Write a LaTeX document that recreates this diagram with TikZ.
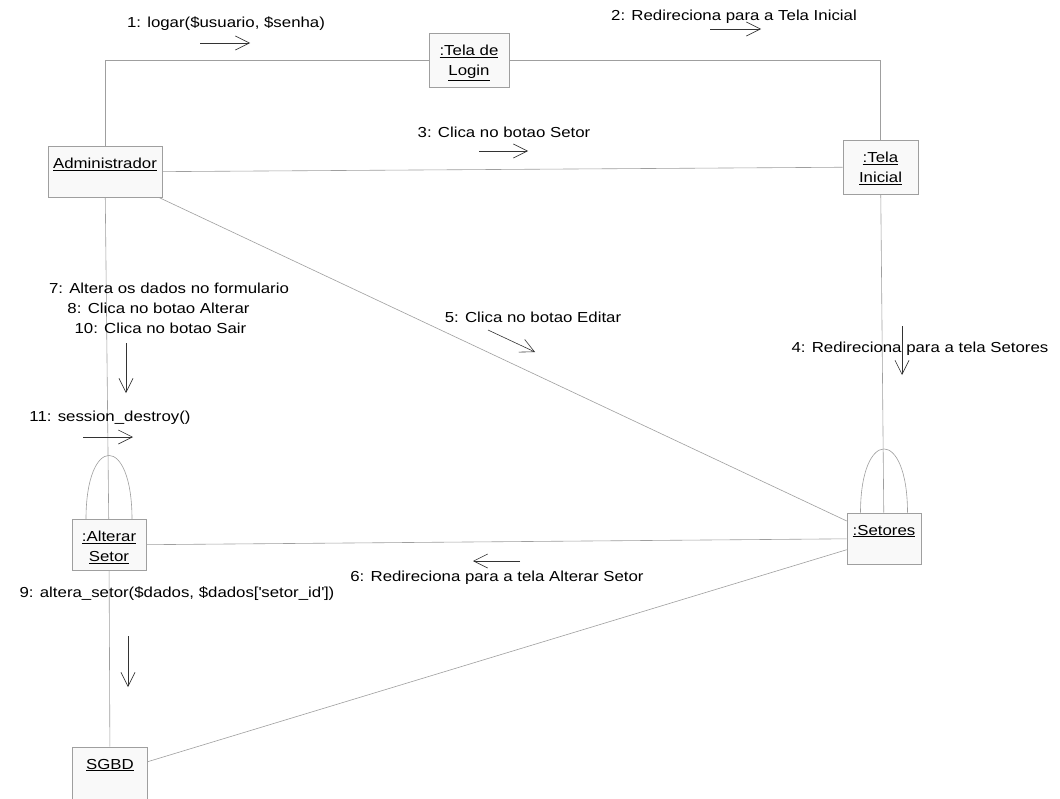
\documentclass[tikz,border=0pt]{standalone}
\usepackage{fontspec}
\setmainfont[FakeStretch=1.16]{Liberation Sans}
\usetikzlibrary{arrows.meta,calc}
\begin{document}
\begin{tikzpicture}[x=1pt,y=-1pt,
  obj/.style={draw=gray!75, fill=gray!5, line width=0.6pt, minimum width=75pt, minimum height=52pt, inner sep=0pt},
  boxtxt/.style={font=\fontsize{14.5}{20}\selectfont, inner sep=0pt, align=center, anchor=north, yshift=-12pt},
  link/.style={draw=gray!75, line width=0.6pt},
  msg/.style={draw=black!80, line width=0.6pt, -{Straight Barb[length=14pt,width=14pt]}},
  lbl/.style={font=\fontsize{14.5}{20}\selectfont, inner sep=0pt, text=black},
]
\fill[white] (0,0) rectangle (1060,798);
\useasboundingbox (0,0) rectangle (1060,798);

% objects
\node[obj, minimum width=80pt, minimum height=54pt] (login) at (469,60) {};
\node[boxtxt] at (login.north) {\underline{:Tela de}\\\underline{Login}};
\node[obj, minimum width=114pt, minimum height=51pt] (adm) at (105,172) {};
\node[boxtxt] at (adm.north) {\underline{Administrador}};
\node[obj, minimum height=54pt] (ini) at (880.5,167) {};
\node[boxtxt] at (ini.north) {\underline{:Tela}\\\underline{Inicial}};
\node[obj, minimum width=74pt, minimum height=51pt] (set) at (884,538.5) {};
\node[boxtxt] at (set.north) {\underline{:Setores}};
\node[obj, minimum width=74pt, minimum height=51pt] (alt) at (109,545) {};
\node[boxtxt] at (alt.north) {\underline{:Alterar}\\\underline{Setor}};
\node[obj, minimum height=52pt] (sgbd) at (110,773) {};
\node[boxtxt] at (sgbd.north) {\underline{SGBD}};

% links
\draw[link] (login) -| (adm);
\draw[link] (login) -| (ini);
\draw[link] (adm) -- (ini);
\draw[link] (adm) -- (set);
\draw[link] (adm) -- (alt);
\draw[link] (ini) -- (set);
\draw[link] (alt) -- (set);
\draw[link] (alt) -- (sgbd);
\draw[link] (sgbd) -- (set);
% self links
\draw[link] ($(set.north)+(-23.5,0)$) .. controls ($(set.north)+(-23.5,-85)$) and ($(set.north)+(23.5,-85)$) .. ($(set.north)+(23.5,0)$);
\draw[link] ($(alt.north)+(-23,0)$) .. controls ($(alt.north)+(-23,-85)$) and ($(alt.north)+(23,-85)$) .. ($(alt.north)+(23,0)$);

% messages
\node[lbl] at (226,24) {1: logar(\$usuario, \$senha)};
\draw[msg] (200,43) -- (250,43);
\node[lbl] at (734,17) {2: Redireciona para a Tela Inicial};
\draw[msg] (710,29) -- (761,29);
\node[lbl] at (504,132) {3: Clica no botao Setor};
\draw[msg] (479,151) -- (528,151);
\node[lbl] at (920,349) {4: Redireciona para a tela Setores};
\draw[msg] (902,326) -- (902,375);
\node[lbl] at (533,317) {5: Clica no botao Editar};
\draw[msg] (488,330) -- (535,352);
\node[lbl] at (497,578) {6: Redireciona para a tela Alterar Setor};
\draw[msg] (520,561) -- (473,561);
\node[lbl] at (169,288) {7: Altera os dados no formulario};
\node[lbl] at (158.5,308) {8: Clica no botao Alterar};
\node[lbl] at (160.5,328) {10: Clica no botao Sair};
\draw[msg] (126,343) -- (126,393);
\node[lbl] at (110,418) {11: session\_destroy()};
\draw[msg] (83,437) -- (133,437);
\node[lbl] at (177,594) {9: altera\_setor(\$dados, \$dados[\textquotesingle setor\_id\textquotesingle])};
\draw[msg] (128,636) -- (128,687);
\end{tikzpicture}
\end{document}
